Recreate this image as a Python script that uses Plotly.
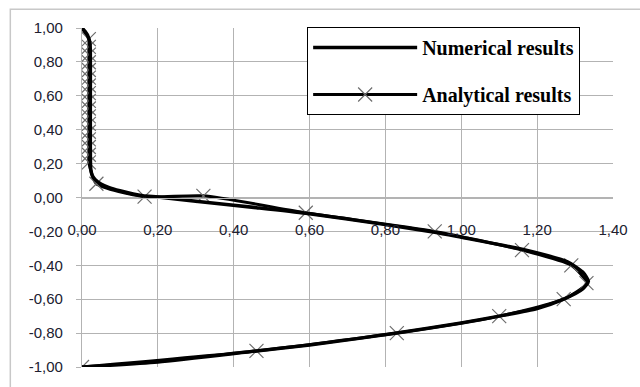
import plotly.graph_objects as go

# Numerical results (smooth curve)
num_x = [0.0, 0.008, 0.016, 0.021, 0.022, 0.022, 0.022, 0.023, 0.027, 0.035, 0.05, 0.07, 0.10, 0.16,
         0.20, 0.30, 0.46, 0.59, 0.80, 0.93, 1.00, 1.16, 1.28, 1.32, 1.335, 1.32, 1.27, 1.20, 1.10,
         1.00, 0.83, 0.60, 0.46, 0.20, 0.0]
num_y = [1.0, 0.98, 0.95, 0.91, 0.85, 0.60, 0.30, 0.17, 0.13, 0.105, 0.08, 0.06, 0.04, 0.01,
         0.003, -0.022, -0.06, -0.093, -0.16, -0.205, -0.235, -0.305, -0.38, -0.44, -0.495, -0.54, -0.60, -0.655, -0.70,
         -0.74, -0.80, -0.87, -0.905, -0.97, -1.0]

# Analytical results (markers)
ana_x = [0.0, 0.018, 0.018, 0.018, 0.018, 0.018, 0.018, 0.018, 0.018, 0.018, 0.018, 0.018, 0.018,
         0.018, 0.018, 0.018, 0.018, 0.018, 0.038, 0.165, 0.32, 0.59, 0.93, 1.16, 1.29, 1.33, 1.27,
         1.10, 0.83, 0.46, 0.0]
ana_y = [1.0, 0.934, 0.889, 0.843, 0.798, 0.752, 0.707, 0.661, 0.616, 0.570, 0.525, 0.479, 0.434,
         0.388, 0.343, 0.298, 0.252, 0.207, 0.081, 0.005, 0.01, -0.09, -0.20, -0.31, -0.40, -0.505, -0.60,
         -0.70, -0.80, -0.905, -1.0]

x_ticks = [0.0, 0.2, 0.4, 0.6, 0.8, 1.0, 1.2, 1.4]
x_tick_text = ["0,00", "0,20", "0,40", "0,60", "0,80", "1,00", "1,20", "1,40"]
y_ticks = [1.0, 0.8, 0.6, 0.4, 0.2, 0.0, -0.2, -0.4, -0.6, -0.8, -1.0]
y_tick_text = ["1,00", "0,80", "0,60", "0,40", "0,20", "0,00", "-0,20", "-0,40", "-0,60", "-0,80", "-1,00"]

fig = go.Figure()
fig.add_trace(go.Scatter(
    x=ana_x, y=ana_y, mode="lines+markers", name="Analytical results",
    line=dict(color="black", width=3, shape="spline", smoothing=0.6),
    marker=dict(symbol="x-thin", size=14, line=dict(color="#6e6e6e", width=1.2), color="#6e6e6e"),
    legendgroup="b", legendrank=2,
))
fig.add_trace(go.Scatter(
    x=num_x, y=num_y, mode="lines", name="Numerical results",
    line=dict(color="black", width=3.5, shape="spline", smoothing=0.6),
    legendgroup="a", legendrank=1,
))

grid = "#b3b3b3"
tickfont = dict(family="Liberation Sans", size=15, color="#202030")
fig.update_layout(
    width=640, height=387,
    margin=dict(l=82, r=25, t=28, b=15),
    paper_bgcolor="white", plot_bgcolor="white",
    font=dict(family="Liberation Sans", size=15, color="#202030"),
    xaxis=dict(
        range=[0, 1.4], tickvals=x_ticks, ticktext=x_tick_text,
        showgrid=True, gridcolor=grid, gridwidth=1.3,
        zeroline=False, showline=True, linecolor=grid, linewidth=1.3,
        anchor="free", position=0.5, ticks="", ticklabelstandoff=18,
        tickfont=tickfont,
    ),
    yaxis=dict(
        range=[-1, 1], tickvals=y_ticks, ticktext=y_tick_text,
        showgrid=True, gridcolor=grid, gridwidth=1.3,
        zeroline=False, showline=True, linecolor=grid, linewidth=1.3,
        ticks="outside", ticklen=5, tickcolor=grid, ticklabelstandoff=10,
        tickfont=tickfont,
    ),
    legend=dict(
        x=0.424, y=1.003, xanchor="left", yanchor="top",
        bgcolor="white", bordercolor="black", borderwidth=1,
        font=dict(family="Liberation Serif", size=20, color="black", weight="bold"),
        traceorder="grouped", tracegroupgap=18, itemwidth=104,
    ),
    shapes=[
        dict(type="rect", xref="paper", yref="paper", x0=-0.135, x1=1.3, y0=-0.3, y1=1.055,
             line=dict(color="#c8c8c8", width=1.5), layer="below"),
    ],
)

fig.write_html("out.html")
